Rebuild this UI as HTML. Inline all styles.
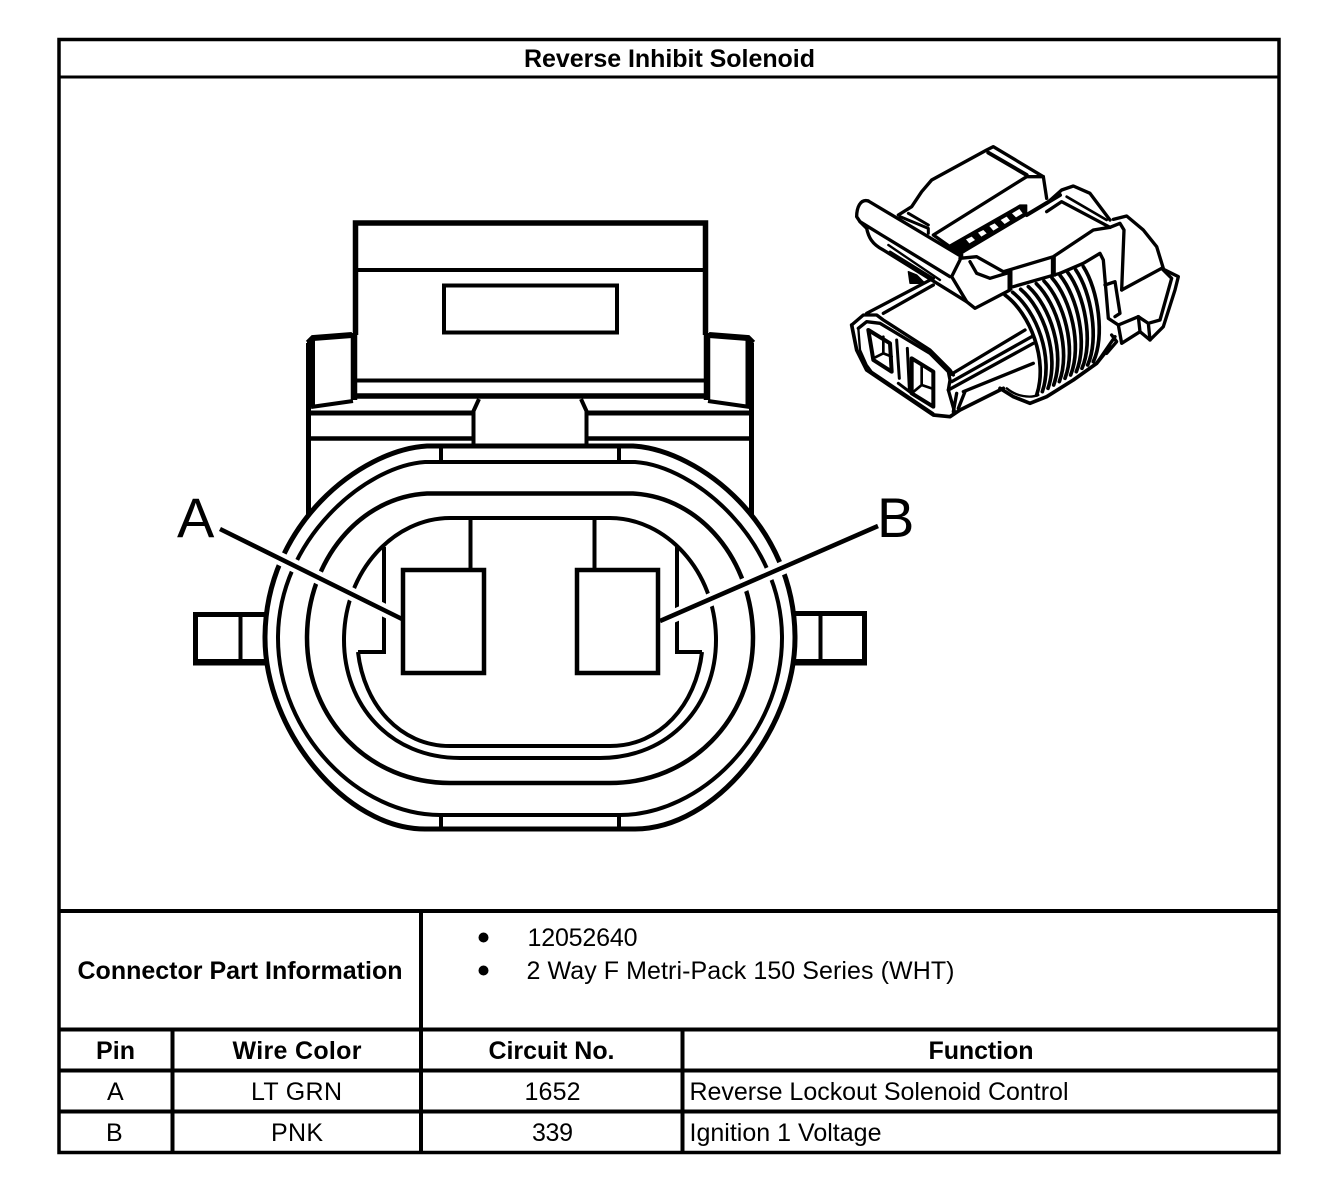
<!DOCTYPE html>
<html><head><meta charset="utf-8"><title>Reverse Inhibit Solenoid</title>
<style>html,body{margin:0;padding:0;background:#fff}svg{display:block}text{font-family:"Liberation Sans",Arial,sans-serif;fill:#000;font-size:25px}.b{font-weight:bold}</style></head>
<body>
<svg width="1328" height="1198" viewBox="0 0 1328 1198" xmlns="http://www.w3.org/2000/svg">
<rect width="1328" height="1198" fill="#fff"/>
<!-- table frame -->
<g fill="none" stroke="#000">
<rect x="59" y="39.500" width="1220" height="1113" stroke-width="3.500"/>
<path d="M59 77H1279" stroke-width="3"/>
<path d="M59 911H1279M59 1029.500H1279M59 1070.500H1279M59 1111.500H1279M421 911V1153M172.500 1029V1153M682.500 1029V1153" stroke-width="4"/>
</g>
<text class="b" x="524" y="67" textLength="291">Reverse Inhibit Solenoid</text>
<text class="b" x="77.500" y="979" textLength="325">Connector Part Information</text>
<circle cx="483.500" cy="937.500" r="5"/><circle cx="483.500" cy="970.500" r="5"/>
<text x="527.500" y="946" textLength="110">12052640</text>
<text x="526.500" y="979" textLength="428">2 Way F Metri-Pack 150 Series (WHT)</text>
<text class="b" x="96" y="1059" textLength="39">Pin</text>
<text class="b" x="232.500" y="1059" textLength="129">Wire Color</text>
<text class="b" x="488.500" y="1059" textLength="126">Circuit No.</text>
<text class="b" x="928.500" y="1059" textLength="105">Function</text>
<text x="107" y="1100">A</text>
<text x="251" y="1100" textLength="91">LT GRN</text>
<text x="524.500" y="1100" textLength="56">1652</text>
<text x="689.500" y="1100" textLength="379">Reverse Lockout Solenoid Control</text>
<text x="106" y="1141">B</text>
<text x="271" y="1141" textLength="52">PNK</text>
<text x="532" y="1141" textLength="41">339</text>
<text x="689.500" y="1141" textLength="192">Ignition 1 Voltage</text>

<!-- main connector -->
<g fill="none" stroke="#000" stroke-width="4">
<path d="M355.500 335V223H705.500V335" stroke-width="5.500"/>
<path d="M354 333V400M707 333V400" stroke-width="6.500"/>
<path d="M355 270H706"/>
<rect x="444" y="285.500" width="173" height="47" stroke-width="4"/>
<path d="M355 380.500H706"/>
<path d="M352 396H709" stroke-width="5.500"/>
<!-- side tabs on top -->
<path d="M352 335L313 338L308 343" stroke-width="6"/>
<path d="M311 340V407" stroke-width="8"/>
<path d="M308.500 343V515" stroke-width="5"/>
<path d="M311 407L353 401" stroke-width="4"/>
<path d="M709 335L748 338L753 343" stroke-width="6"/>
<path d="M749.500 340V407" stroke-width="8"/>
<path d="M751.500 343V515" stroke-width="5"/>
<path d="M708 401L750 407" stroke-width="4"/>
<path d="M307 413H473M587 413H753" stroke-width="5"/>
<path d="M307 438.500H473M587 438.500H753" stroke-width="4.500"/>
<path d="M473.500 447V411L479 399M586.500 447V411L581 399" stroke-width="4"/>
<!-- ovals -->
<path d="M427 446C360 450 265 525 265 638C265 730 345 829 425 829H635C715 829 795 730 795 638C795 525 700 450 633 446Z" stroke-width="5"/>
<path d="M425 462C365 466 278 540 278 638C278 735 360 815 440 815H620C700 815 782 735 782 638C782 540 695 466 635 462Z" stroke-width="4"/>
<path d="M427 446.500H633M427 462H633M441 447V462M619 447V462M441 815V829M619 815V829"/>
<path d="M427 493.500H633C700 497 753 560 753 638C753 720 690 783 610 783H450C370 783 307 720 307 638C307 560 360 497 427 493.500Z" stroke-width="4.500"/>
<path d="M450 518H610C665 518 716 570 716 640C716 705 670 758 600 758H460C390 758 344 705 344 640C344 570 395 518 450 518Z"/>
<path d="M358 652C364 705 400 746 450 746H610C660 746 696 705 702 652" stroke-width="4"/>
<path d="M358 652H384V547M702 652H677V547" stroke-width="4"/>
<path d="M470.500 518V570M594.500 518V570"/>
<!-- lugs -->
<path d="M265 614.500H195.500V661.500H265" stroke-width="5"/>
<path d="M193 662.500H265" stroke-width="6"/>
<path d="M795 613.500H864.500V661.500H795" stroke-width="5"/>
<path d="M795 662.500H867" stroke-width="6"/>
<path d="M240.500 615V662M820.500 615V662"/>
<!-- leaders -->
<path d="M220 529L400 618M878 526L662 621" stroke="#fff" stroke-width="13"/>
<path d="M220 529L402 619M878 526L660 621" stroke-width="4.500"/>
<rect x="403" y="570" width="81" height="103" stroke-width="4.500" fill="#fff"/>
<rect x="577" y="570" width="81" height="103" stroke-width="4.500" fill="#fff"/>
</g>
<text x="177" y="537" style="font-size:56px">A</text>
<text x="877" y="537" style="font-size:56px">B</text>

<!-- isometric connector -->
<g transform="translate(840 140) scale(.33333)" fill="none" stroke="#000" stroke-width="10" stroke-linejoin="round" stroke-linecap="round">
<!-- clip -->
<path d="M175 225L215 200L245 155L275 120L440 30L460 20L610 110L620 175"/>
<path d="M445 38L560 105" stroke-width="12"/>
<path d="M610 110H560L280 285L365 345"/>
<path d="M180 230L265 265V280M205 220L265 255" stroke-width="9"/>
<!-- ladder -->
<path d="M330 315L540 195H560V225L375 335L360 345Z" fill="#000" stroke-width="4"/>
<g fill="#fff" stroke="none">
<path d="M378 298L395 290L405 300L388 310Z"/><path d="M414 278L430 270L440 280L424 290Z"/><path d="M448 258L464 250L476 262L460 272Z"/><path d="M482 240L500 230L510 242L494 252Z"/><path d="M516 220L538 207L548 220L528 232Z"/>
</g>
<path d="M560 225L660 165" stroke-width="12"/>
<!-- lever -->
<path d="M85 183L365 350"/>
<path d="M85 183C60 175 50 205 50 230L60 245L125 285L330 410"/>
<path d="M60 245L80 265C85 290 95 312 130 330L380 485L405 505L510 450"/>
<path d="M145 315L300 420" stroke-width="7"/>
<path d="M150 335L280 415" stroke-width="7"/>
<path d="M205 395L210 430L255 430L230 405Z" fill="#000" stroke-width="4"/>
<path d="M360 360L335 410L380 485"/>
<path d="M360 355L410 350L490 395L640 350L760 270L810 262M390 365L410 400L450 415L500 400"/>
<path d="M510 390V450M640 350V410" stroke-width="15" stroke-linecap="butt"/>
<path d="M520 440L660 400"/>
<!-- arm & rear -->
<path d="M620 190L665 150L700 138L750 160L810 240"/>
<path d="M620 215L665 185L810 262" />
<path d="M680 170L800 240" stroke-width="8"/>
<path d="M810 262L840 250L852 270L845 450"/>
<path d="M660 400L730 370L780 340L790 360L805 535L835 555L895 530"/>
<path d="M795 435L825 425L840 520L825 530"/>
<path d="M820 238L860 228L910 270L950 320L970 385"/>
<path d="M845 450L965 385L1015 410L1005 450L970 560L930 600L900 575L895 530"/>
<path d="M965 385L995 415L960 540L925 550L895 530M925 550L930 600"/>
<path d="M835 555L845 610L900 575"/>
<path d="M815 585L830 605L800 640M825 590L770 670"/>
<!-- ribs -->
<g stroke-width="11">
<path d="M495 465C570 520 625 660 590 765"/>
<path d="M518 457C590 513 642 653 607 755"/>
<path d="M542 448C611 506 659 646 624 745"/>
<path d="M565 440C631 499 676 639 641 735"/>
<path d="M589 431C652 492 693 632 658 725"/>
<path d="M612 423C672 485 710 625 675 715"/>
<path d="M636 414C693 478 727 618 692 705"/>
<path d="M660 406C713 471 744 611 709 695"/>
<path d="M683 397C734 464 761 604 726 685"/>
<path d="M707 389C754 457 778 597 743 675"/>
<path d="M730 380C775 450 795 590 760 665"/>
</g>
<path d="M480 745L520 770L570 790L620 770L700 720L770 670L810 620" stroke-width="11"/>
<path d="M500 745C530 770 570 775 595 765" stroke-width="7"/>
<!-- front body -->
<path d="M35 555L50 630L80 690L280 825L330 830L360 810L490 745" stroke-width="11"/>
<path d="M35 555L70 525L110 525L130 540L270 630L330 690L340 705"/>
<path d="M55 565L80 545L120 550L270 640L325 695L330 720L325 750L345 820"/>
<path d="M55 565L60 630L80 675L95 695L280 820" stroke-width="7"/>
<path d="M80 520L280 415M130 520L280 435"/>
<path d="M330 705L555 570M335 725L575 590M325 750L580 610M370 755L580 670"/>
<path d="M375 755L355 805M350 760L340 815"/>
<path d="M85 570L150 610L155 695L100 660Z" stroke-width="12"/>
<path d="M130 590V640L155 650M100 655L130 640" stroke-width="8"/>
<path d="M215 655L280 695V800L215 760Z" stroke-width="12"/>
<path d="M245 675V735L275 745M215 760L245 735" stroke-width="8"/>
<path d="M170 600L178 715M202 625L208 745M175 730L215 760" stroke-width="9"/>
</g>
</svg>
</body></html>
